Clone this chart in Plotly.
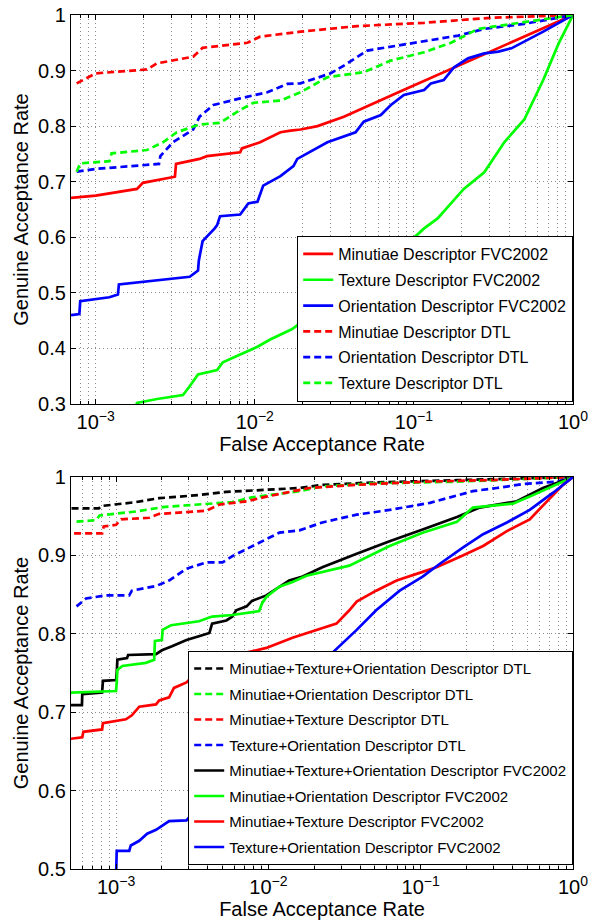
import math
import plotly.graph_objects as go

# ---------------- Top panel data ----------------
top_names = ["Minutiae Descriptor FVC2002", "Texture Descriptor FVC2002",
             "Orientation Descriptor FVC2002", "Minutiae Descriptor DTL",
             "Orientation Descriptor DTL", "Texture Descriptor DTL"]
top_colors = ["#ff0000", "#00ff00", "#0000ff", "#ff0000", "#0000ff", "#00ff00"]
top_dash = ["solid", "solid", "solid", "dash", "dash", "dash"]

min_fvc_x = [7.0e-4, 1.0e-3, 1.82e-3, 1.98e-3, 3.15e-3, 3.2e-3, 4.5e-3, 5.0e-3, 8.1e-3, 8.3e-3,
             0.0108, 0.0145, 0.0168, 0.0194, 0.0248, 0.0363, 0.08, 0.171, 0.4, 1.0]
min_fvc_y = [0.671, 0.675, 0.687, 0.698, 0.709, 0.732, 0.741, 0.746, 0.753, 0.760,
             0.771, 0.789, 0.792, 0.794, 0.800, 0.817, 0.861, 0.903, 0.950, 1.0]

tex_fvc_x = [1.75e-3, 1.82e-3, 2.43e-3, 3.54e-3, 3.9e-3, 4.4e-3, 5.8e-3, 6.3e-3, 8.1e-3, 0.0104,
             0.0125, 0.0145, 0.0172, 0.0917, 0.1, 0.116, 0.141, 0.206, 0.277, 0.37,
             0.494, 0.65, 0.81, 1.0]
tex_fvc_y = [0.29, 0.302, 0.309, 0.316, 0.332, 0.353, 0.361, 0.375, 0.389, 0.403,
             0.416, 0.425, 0.435, 0.593, 0.599, 0.616, 0.634, 0.687, 0.717, 0.771,
             0.812, 0.883, 0.948, 1.0]

ori_fvc_x = [7.0e-4, 7.9e-4, 8.0e-4, 1.22e-3, 1.38e-3, 1.40e-3, 3.9e-3, 4.4e-3, 4.45e-3, 4.7e-3,
             5.6e-3, 5.8e-3, 6.05e-3, 8.1e-3, 9.1e-3, 0.0104, 0.0113, 0.0145, 0.0175, 0.0185,
             0.0286, 0.043, 0.0484, 0.062, 0.0717, 0.0865, 0.116, 0.128, 0.154, 0.179,
             0.219, 0.277, 0.34, 0.41, 0.65, 1.0]
ori_fvc_y = [0.460, 0.462, 0.485, 0.492, 0.497, 0.515, 0.529, 0.540, 0.558, 0.593,
             0.616, 0.622, 0.638, 0.641, 0.661, 0.664, 0.693, 0.710, 0.728, 0.741,
             0.771, 0.789, 0.808, 0.820, 0.838, 0.856, 0.865, 0.877, 0.883, 0.906,
             0.922, 0.931, 0.934, 0.940, 0.970, 1.0]

min_dtl_x = [7.6e-4, 1.0e-3, 2.1e-3, 2.43e-3, 4.1e-3, 4.7e-3, 9.0e-3, 0.0108, 0.0194, 0.044,
             0.116, 0.306, 0.65, 1.0]
min_dtl_y = [0.877, 0.895, 0.902, 0.913, 0.925, 0.941, 0.950, 0.961, 0.970, 0.980,
             0.986, 0.995, 0.998, 1.0]

ori_dtl_x = [7.6e-4, 1.0e-3, 2.5e-3, 2.55e-3, 3.06e-3, 4.1e-3, 4.5e-3, 5.5e-3, 8.1e-3, 0.012,
             0.016, 0.0194, 0.03, 0.0363, 0.051, 0.1, 0.19, 0.277, 0.494, 1.0]
ori_dtl_y = [0.718, 0.723, 0.732, 0.746, 0.771, 0.794, 0.817, 0.838, 0.850, 0.861,
             0.876, 0.877, 0.895, 0.909, 0.936, 0.950, 0.963, 0.975, 0.984, 1.0]

tex_dtl_x = [7.6e-4, 8.0e-4, 1.22e-3, 1.26e-3, 2.1e-3, 2.65e-3, 3.24e-3, 4.5e-3, 6.05e-3, 8.1e-3,
             9.8e-3, 0.0145, 0.0194, 0.0286, 0.0484, 0.0717, 0.116, 0.171, 0.253, 0.41,
             0.65, 1.0]
tex_dtl_y = [0.718, 0.733, 0.737, 0.751, 0.757, 0.771, 0.789, 0.803, 0.806, 0.829,
             0.842, 0.846, 0.861, 0.888, 0.897, 0.918, 0.933, 0.950, 0.975, 0.984,
             0.993, 1.0]

top_x = [min_fvc_x, tex_fvc_x, ori_fvc_x, min_dtl_x, ori_dtl_x, tex_dtl_x]
top_y = [min_fvc_y, tex_fvc_y, ori_fvc_y, min_dtl_y, ori_dtl_y, tex_dtl_y]

# ---------------- Bottom panel data ----------------
bot_names = ["Minutiae+Texture+Orientation Descriptor DTL", "Minutiae+Orientation Descriptor DTL",
             "Minutiae+Texture Descriptor DTL", "Texture+Orientation Descriptor DTL",
             "Minutiae+Texture+Orientation Descriptor FVC2002", "Minutiae+Orientation Descriptor FVC2002",
             "Minutiae+Texture Descriptor FVC2002", "Texture+Orientation Descriptor FVC2002"]
bot_colors = ["#000000", "#00ff00", "#ff0000", "#0000ff", "#000000", "#00ff00", "#ff0000", "#0000ff"]
bot_dash = ["dash", "dash", "dash", "dash", "solid", "solid", "solid", "solid"]

mto_dtl_x = [5.1e-4, 7.7e-4, 8.0e-4, 1.35e-3, 1.92e-3, 3.5e-3, 5.3e-3, 8.7e-3, 0.016, 0.0226,
             0.048, 0.173, 1.0]
mto_dtl_y = [0.960, 0.960, 0.963, 0.968, 0.973, 0.977, 0.981, 0.983, 0.986, 0.990,
             0.993, 0.996, 1.0]

mo_dtl_x = [5.5e-4, 7.4e-4, 7.8e-4, 1.35e-3, 2.1e-3, 3.9e-3, 5.8e-3, 7.8e-3, 0.016, 0.0226,
            0.051, 0.173, 1.0]
mo_dtl_y = [0.943, 0.945, 0.951, 0.956, 0.962, 0.966, 0.968, 0.974, 0.982, 0.988,
            0.992, 0.994, 1.0]

mt_dtl_x = [5.3e-4, 8.1e-4, 8.3e-4, 1.0e-3, 1.08e-3, 1.65e-3, 1.92e-3, 3.9e-3, 4.8e-3, 7.2e-3,
            9.7e-3, 0.016, 0.0186, 0.038, 0.103, 0.28, 1.0]
mt_dtl_y = [0.928, 0.928, 0.937, 0.939, 0.946, 0.948, 0.953, 0.957, 0.965, 0.969,
            0.975, 0.984, 0.986, 0.990, 0.994, 0.996, 1.0]

to_dtl_x = [5.5e-4, 6.35e-4, 8.6e-4, 1.22e-3, 1.27e-3, 1.83e-3, 2.23e-3, 2.9e-3, 3.9e-3, 5.0e-3,
            5.8e-3, 7.2e-3, 9.1e-3, 0.0118, 0.016, 0.0226, 0.038, 0.0625, 0.115, 0.22,
            0.316, 0.469, 0.78, 1.0]
to_dtl_y = [0.835, 0.845, 0.849, 0.849, 0.855, 0.861, 0.868, 0.883, 0.891, 0.891,
            0.899, 0.908, 0.918, 0.929, 0.932, 0.942, 0.952, 0.958, 0.967, 0.982,
            0.986, 0.991, 0.994, 1.0]

mto_fvc_x = [5.0e-4, 5.97e-4, 6.0e-4, 8.1e-4, 8.2e-4, 1.0e-3, 1.01e-3, 1.02e-3, 1.18e-3, 1.2e-3,
             1.83e-3, 2.0e-3, 2.33e-3, 2.9e-3, 3.5e-3, 4.1e-3, 4.27e-3, 5.3e-3, 5.8e-3, 6.15e-3,
             7.2e-3, 7.8e-3, 9.7e-3, 0.0118, 0.0137, 0.0168, 0.0226, 0.038, 0.0625, 0.103,
             0.173, 0.244, 0.428, 0.635, 1.0]
mto_fvc_y = [0.709, 0.709, 0.723, 0.725, 0.740, 0.741, 0.750, 0.767, 0.769, 0.773,
             0.774, 0.779, 0.784, 0.792, 0.797, 0.801, 0.813, 0.817, 0.822, 0.830,
             0.835, 0.842, 0.849, 0.860, 0.868, 0.873, 0.885, 0.902, 0.918, 0.933,
             0.949, 0.961, 0.969, 0.986, 1.0]

mo_fvc_x = [5.0e-4, 1.0e-3, 1.01e-3, 1.02e-3, 1.1e-3, 1.57e-3, 1.78e-3, 1.8e-3, 2.0e-3, 2.02e-3,
            2.3e-3, 3.5e-3, 4.27e-3, 5.8e-3, 8.7e-3, 9.1e-3, 9.7e-3, 0.0118, 0.0144, 0.0178,
            0.034, 0.0625, 0.103, 0.173, 0.22, 0.28, 0.403, 0.52, 0.74, 1.0]
mo_fvc_y = [0.725, 0.727, 0.738, 0.754, 0.759, 0.763, 0.767, 0.791, 0.792, 0.805,
            0.811, 0.816, 0.822, 0.824, 0.829, 0.839, 0.847, 0.860, 0.866, 0.874,
            0.887, 0.912, 0.929, 0.943, 0.961, 0.963, 0.966, 0.975, 0.988, 1.0]

mt_fvc_x = [5.0e-4, 6.0e-4, 6.1e-4, 8.1e-4, 8.2e-4, 1.16e-3, 1.27e-3, 1.42e-3, 1.83e-3, 1.92e-3,
            2.23e-3, 2.4e-3, 2.9e-3, 3.5e-3, 5.8e-3, 9.7e-3, 0.0144, 0.0207, 0.028, 0.034,
            0.038, 0.051, 0.0695, 0.103, 0.127, 0.189, 0.257, 0.368, 0.52, 0.675,
            0.86, 1.0]
mt_fvc_y = [0.666, 0.668, 0.675, 0.678, 0.686, 0.691, 0.696, 0.707, 0.710, 0.715,
            0.719, 0.731, 0.738, 0.754, 0.772, 0.782, 0.795, 0.805, 0.813, 0.830,
            0.841, 0.855, 0.868, 0.879, 0.885, 0.900, 0.912, 0.931, 0.946, 0.969,
            0.990, 1.0]

to_fvc_x = [1.0e-3, 1.01e-3, 1.22e-3, 1.25e-3, 1.42e-3, 1.6e-3, 1.83e-3, 2.23e-3, 2.9e-3, 0.0264,
            0.038, 0.051, 0.0728, 0.103, 0.133, 0.189, 0.257, 0.368, 0.52, 0.74, 1.0]
to_fvc_y = [0.490, 0.523, 0.523, 0.530, 0.536, 0.545, 0.550, 0.561, 0.562, 0.776,
            0.805, 0.830, 0.855, 0.873, 0.889, 0.910, 0.927, 0.942, 0.958, 0.980, 1.0]

bot_x = [mto_dtl_x, mo_dtl_x, mt_dtl_x, to_dtl_x, mto_fvc_x, mo_fvc_x, mt_fvc_x, to_fvc_x]
bot_y = [mto_dtl_y, mo_dtl_y, mt_dtl_y, to_dtl_y, mto_fvc_y, mo_fvc_y, mt_fvc_y, to_fvc_y]

# ---------------- Axis tick values ----------------
x_major = [1e-3, 1e-2, 1e-1, 1]
x_major_text = ["10<sup>\u22123</sup>", "10<sup>\u22122</sup>", "10<sup>\u22121</sup>", "10<sup>0</sup>"]
x_minor = [m * d for d in [1e-4, 1e-3, 1e-2, 1e-1] for m in range(2, 10)]
top_yticks = [0.3, 0.4, 0.5, 0.6, 0.7, 0.8, 0.9, 1]
top_ytext = ["0.3", "0.4", "0.5", "0.6", "0.7", "0.8", "0.9", "1"]
bot_yticks = [0.5, 0.6, 0.7, 0.8, 0.9, 1]
bot_ytext = ["0.5", "0.6", "0.7", "0.8", "0.9", "1"]

FONT = "Liberation Sans, Arial, Helvetica, sans-serif"
DASH = "7px,4px"
LW = 2.7
FS = 20

fig = go.Figure()
for i, (n, xs, ys, c, d) in enumerate(zip(top_names, top_x, top_y, top_colors, top_dash)):
    fig.add_trace(go.Scatter(x=xs, y=ys, name=n, mode="lines", xaxis="x", yaxis="y",
                             line=dict(color=c, width=LW, dash=DASH if d == "dash" else "solid"),
                             legend="legend", legendgroup="t%d" % i))
for i, (n, xs, ys, c, d) in enumerate(zip(bot_names, bot_x, bot_y, bot_colors, bot_dash)):
    fig.add_trace(go.Scatter(x=xs, y=ys, name=n, mode="lines", xaxis="x2", yaxis="y2",
                             line=dict(color=c, width=LW, dash=DASH if d == "dash" else "solid"),
                             legend="legend2", legendgroup="b%d" % i))

grid_col = "#8c8c8c"
GDASH = "1px,3px"
common_x = dict(type="log", showline=True, linecolor="black", linewidth=1.3, mirror="ticks",
                ticks="inside", ticklen=5, tickcolor="black",
                tickmode="array", tickvals=x_major, ticktext=x_major_text,
                showgrid=True, gridcolor=grid_col, griddash=GDASH, gridwidth=1,
                zeroline=False, tickfont=dict(family=FONT, size=FS, color="black"),
                minor=dict(tickmode="array", tickvals=x_minor, ticks="inside", ticklen=3,
                           tickcolor="black", showgrid=True, gridcolor=grid_col,
                           griddash=GDASH, gridwidth=1),
                title=dict(text="False Acceptance Rate", font=dict(family=FONT, size=FS, color="black"),
                           standoff=0))
common_y = dict(showline=True, linecolor="black", linewidth=1.3, mirror="ticks",
                ticks="inside", ticklen=5, tickcolor="black",
                showgrid=True, gridcolor=grid_col, griddash=GDASH, gridwidth=1,
                zeroline=False, tickfont=dict(family=FONT, size=FS, color="black"),
                tickmode="array",
                title=dict(text="Genuine Acceptance Rate", font=dict(family=FONT, size=FS, color="black"),
                           standoff=4))

fig.update_layout(
    width=599, height=924,
    margin=dict(l=71, r=26, t=4, b=55),
    paper_bgcolor="white", plot_bgcolor="white",
    font=dict(family=FONT, color="black"),
    xaxis=dict(common_x, domain=[0, 1], anchor="y", range=[math.log10(7.0e-4), 0]),
    yaxis=dict(common_y, domain=[0.5445, 1], anchor="x", range=[0.3, 1],
               tickvals=top_yticks, ticktext=top_ytext),
    xaxis2=dict(common_x, domain=[0, 1], anchor="y2", range=[math.log10(5.06e-4), 0]),
    yaxis2=dict(common_y, domain=[0, 0.459], anchor="x2", range=[0.5, 1],
                tickvals=bot_yticks, ticktext=bot_ytext),
    legend=dict(x=1, y=0.547, xanchor="right", yanchor="bottom", bgcolor="white",
                bordercolor="black", borderwidth=1.2, tracegroupgap=2,
                font=dict(family=FONT, size=16, color="black")),
    legend2=dict(x=1, y=0.0046, xanchor="right", yanchor="bottom", bgcolor="white",
                 bordercolor="black", borderwidth=1.2, tracegroupgap=3,
                 font=dict(family=FONT, size=15, color="black")),
    showlegend=True,
)

fig.write_html("out.html", config={"displayModeBar": False},
               post_script="document.body.style.margin='0px';")
